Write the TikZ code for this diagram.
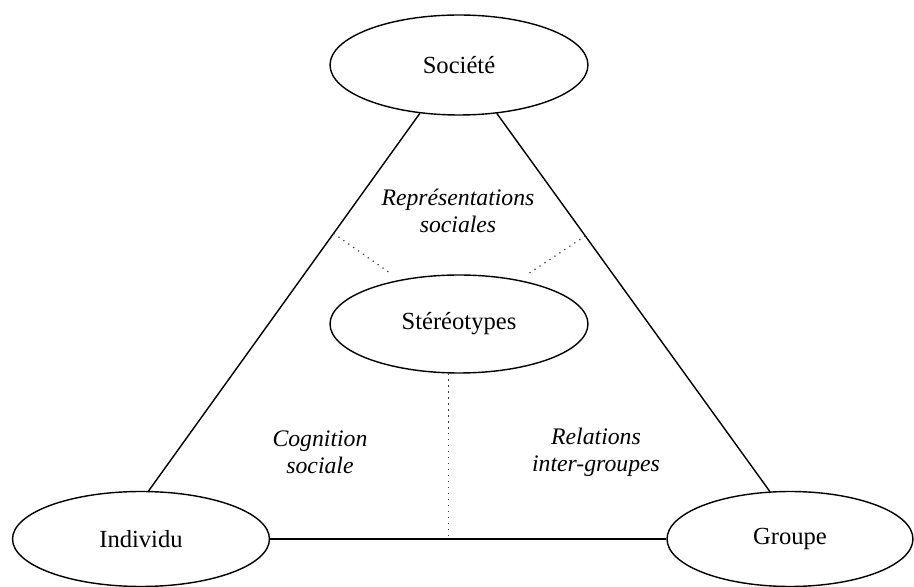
\documentclass[tikz,border=0pt]{standalone}
\usepackage{fontspec}
\setmainfont{Liberation Serif}
\usetikzlibrary{shapes.geometric}
\begin{document}
\begin{tikzpicture}[x=0.02cm,y=-0.02cm,
  oval/.style={draw, ellipse, line width=0.8pt, inner sep=0pt, font=\fontsize{14}{16}\selectfont},
  edge/.style={line width=0.8pt},
  dots/.style={line width=0.7pt, dash pattern=on 0.7pt off 2.7pt, draw=black!75},
  lab/.style={font=\fontsize{13.5}{15.5}\selectfont\itshape, align=center, inner sep=0pt}]
\useasboundingbox (0,0) rectangle (914,587);
\node[oval, minimum width=5.16cm, minimum height=2.0cm] (soc) at (459,65) {Société};
\node[oval, minimum width=5.16cm, minimum height=1.96cm] (ster) at (459,324) {Stéréotypes};
\node[oval, minimum width=5.14cm, minimum height=1.9cm] (ind) at (141,539) {Individu};
\node[oval, minimum width=4.92cm, minimum height=1.9cm] (grp) at (790,539) {Groupe};
\draw[edge] (soc.231) -- coordinate[pos=0.318] (dl) (ind.81);
\draw[edge] (soc.308) -- coordinate[pos=0.324] (dr) (grp.113);
\draw[edge] (ind.east) -- (grp.west);
\coordinate (dle) at (390,273);
\coordinate (dre) at (528,274);
\draw[dots] (dl) -- (dle);
\draw[dots] (dr) -- (dre);
\draw[dots] (ster.258) -- (ster.258 |- ind.east);
\node[lab] (rs) at (458,211) {Représentations\\sociales};
\node[lab] (cs) at (320,452) {Cognition\\sociale};
\node[lab] (ri) at (596,452) {Relations\\inter-groupes};
\end{tikzpicture}
\end{document}
